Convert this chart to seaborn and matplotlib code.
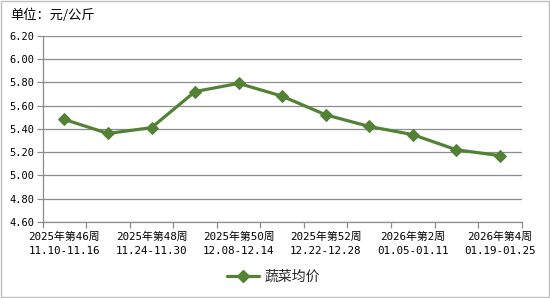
import matplotlib
matplotlib.use("Agg")
import matplotlib.pyplot as plt
import seaborn as sns
import pandas as pd
import numpy as np
from matplotlib.lines import Line2D

weeks = ["2025年第46周", "2025年第47周", "2025年第48周", "2025年第49周", "2025年第50周",
         "2025年第51周", "2025年第52周", "2026年第1周", "2026年第2周", "2026年第3周", "2026年第4周"]
dates = ["11.10-11.16", "11.17-11.23", "11.24-11.30", "12.01-12.07", "12.08-12.14",
         "12.15-12.21", "12.22-12.28", "12.29-01.04", "01.05-01.11", "01.12-01.18", "01.19-01.25"]
prices = [5.48, 5.36, 5.41, 5.72, 5.79, 5.68, 5.52, 5.42, 5.35, 5.22, 5.17]
yticks = [4.60, 4.80, 5.00, 5.20, 5.40, 5.60, 5.80, 6.00, 6.20]
series_name = "蔬菜均价"
unit_label = "单位：元/公斤"

sns.set_theme(style="white")
plt.rcParams['font.family'] = ['Noto Sans CJK SC', 'DejaVu Sans']
mono = ['DejaVu Sans Mono', 'Noto Sans CJK SC']

df = pd.DataFrame({"idx": np.arange(len(prices)), "price": prices})

fig = plt.figure(figsize=(5.5, 2.98), dpi=100)
fig.patch.set_facecolor("white")
ax = fig.add_axes([0.0776, 0.255, 0.8709, 0.6255])

green = "#538135"
sns.lineplot(data=df, x="idx", y="price", ax=ax, color=green, linewidth=2.3,
             marker="D", markersize=6.5, markeredgecolor=green, markerfacecolor=green,
             legend=False)

ax.set_xlim(-0.5, len(prices) - 0.5)
ax.set_ylim(4.60, 6.20)
ax.set_yticks(yticks)
ax.set_yticklabels([f"{v:.2f}" for v in yticks], fontsize=7.5, color="black", family=mono)
ax.yaxis.grid(True, color="#8c8c8c", linewidth=0.9)
ax.set_axisbelow(True)

# tick marks at category boundaries, labels at every other category
ax.set_xticks(np.arange(-0.5, len(prices), 1.0))
ax.set_xticklabels([])
ax.set_xticks(np.arange(0, len(prices), 2), minor=True)
ax.set_xticklabels([f"{weeks[i]}\n{dates[i]}" for i in range(0, len(prices), 2)],
                   minor=True, fontsize=7.8, color="black", linespacing=1.55, family=mono)
ax.tick_params(axis="x", which="major", length=4, width=0.9, color="#8c8c8c", direction="out", bottom=True)
ax.tick_params(axis="x", which="minor", length=0, pad=7)
ax.tick_params(axis="y", which="major", length=4, width=0.9, color="#8c8c8c", direction="out", left=True, pad=2)

for s in ["top", "right"]:
    ax.spines[s].set_visible(False)
for s in ["left", "bottom"]:
    ax.spines[s].set_color("#8c8c8c")
    ax.spines[s].set_linewidth(0.9)

ax.set_xlabel("")
ax.set_ylabel("")

fig.text(0.018, 0.95, unit_label, fontsize=9.5, ha="left", va="center", color="black")

handle = Line2D([0], [0], color=green, linewidth=2.3, marker="D", markersize=6.5,
                markerfacecolor=green, markeredgecolor=green)
fig.legend([handle], [series_name], loc="center", bbox_to_anchor=(0.497, 0.07),
           frameon=False, fontsize=10, handlelength=2.3, handletextpad=0.4)

# outer border
border = plt.Rectangle((0.001, 0.002), 0.997, 0.995, transform=fig.transFigure,
                       fill=False, edgecolor="#bfbfbf", linewidth=1)
fig.patches.append(border)

fig.savefig("out.png", dpi=100, facecolor="white")
